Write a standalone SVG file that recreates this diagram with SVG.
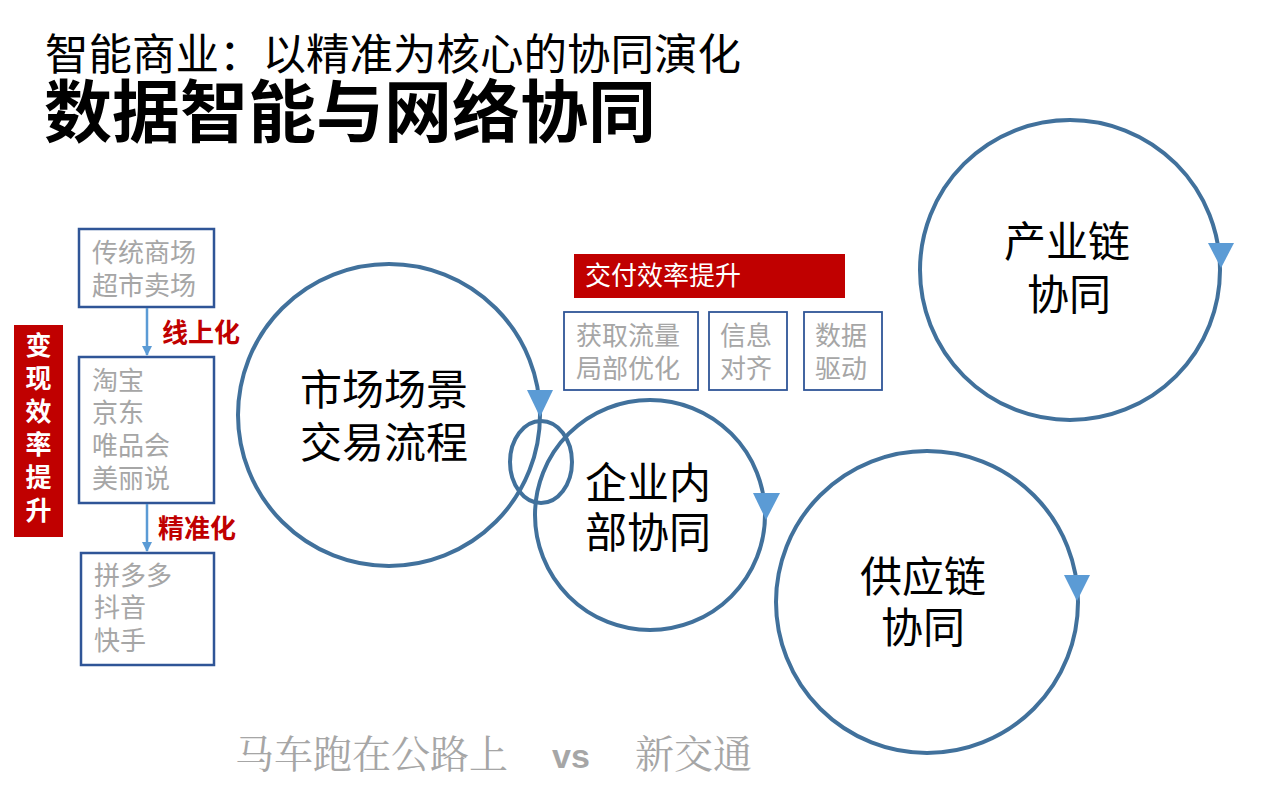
<svg xmlns="http://www.w3.org/2000/svg" width="1269" height="803" viewBox="0 0 1269 803">
<style>
text{font-family:"Noto Sans CJK SC","Noto Sans",sans-serif}
.ring{fill:none;stroke:#41719C;stroke-width:4}
.tip{fill:#5B9BD5}
.box{fill:#fff;stroke:#2F5597;stroke-width:2.5}
.sbox{fill:#fff;stroke:#2F5597;stroke-width:1.8}
.gray{fill:#A6A6A6;font-size:26px}
.big{fill:#000;font-size:42px}
.red{fill:#C00000;font-size:26px;font-weight:bold}
.wt{fill:#fff;font-size:26px}
.vl{stroke:#5B9BD5;stroke-width:2.5;fill:none}
</style>
<defs>
<marker id="ah" viewBox="0 0 10 10" refX="9" refY="5" markerWidth="4" markerHeight="4" orient="auto"><path d="M0,0L10,5L0,10z" fill="#5B9BD5"/></marker>
</defs>
<rect width="1269" height="803" fill="#fff"/>
<g id="title">
<text x="45" y="70" font-size="43.5" fill="#000">智能商业：以精准为核心的协同演化</text>
<text x="44" y="137" font-size="68" font-weight="bold" fill="#000">数据智能与网络协同</text>
</g>
<g id="bianxian">
<rect x="14" y="325" width="49" height="212" fill="#C00000"/>
<text class="wt" font-weight="bold" text-anchor="middle" x="38.5" y="355">变</text>
<text class="wt" font-weight="bold" text-anchor="middle" x="38.5" y="388">现</text>
<text class="wt" font-weight="bold" text-anchor="middle" x="38.5" y="421">效</text>
<text class="wt" font-weight="bold" text-anchor="middle" x="38.5" y="454">率</text>
<text class="wt" font-weight="bold" text-anchor="middle" x="38.5" y="487">提</text>
<text class="wt" font-weight="bold" text-anchor="middle" x="38.5" y="520">升</text>
</g>
<g id="box1">
<rect class="box" x="79" y="229" width="135" height="78"/>
<text class="gray" x="92" y="262">传统商场</text>
<text class="gray" x="92" y="295">超市卖场</text>
</g>
<g id="box2">
<rect class="box" x="79" y="357" width="135" height="146"/>
<text class="gray" x="92" y="390">淘宝</text>
<text class="gray" x="92" y="422">京东</text>
<text class="gray" x="92" y="455">唯品会</text>
<text class="gray" x="92" y="488">美丽说</text>
</g>
<g id="box3">
<rect class="box" x="81" y="553" width="133" height="112"/>
<text class="gray" x="94" y="585">拼多多</text>
<text class="gray" x="94" y="617">抖音</text>
<text class="gray" x="94" y="650">快手</text>
</g>
<g id="connectors">
<line class="vl" x1="147" y1="308" x2="147" y2="355" marker-end="url(#ah)"/>
<line class="vl" x1="147" y1="504" x2="147" y2="551" marker-end="url(#ah)"/>
<text class="red" x="162" y="342">线上化</text>
<text class="red" x="158" y="538">精准化</text>
</g>
<g id="market">
<circle class="ring" cx="389" cy="415" r="151"/>
<path class="tip" d="M527,390L553,390L540,417z"/>
<text class="big" x="300" y="405">市场场景</text>
<text class="big" x="300" y="458">交易流程</text>
</g>
<g id="overlap">
<ellipse class="ring" cx="541" cy="462" rx="31" ry="41" stroke-width="3"/>
</g>
<g id="enterprise">
<circle class="ring" cx="650" cy="515" r="115"/>
<path class="tip" d="M753,493L780,493L766,520z"/>
<text class="big" x="585" y="498">企业内</text>
<text class="big" x="585" y="548">部协同</text>
</g>
<g id="supply">
<circle class="ring" cx="927" cy="602" r="151"/>
<path class="tip" d="M1064,575L1090,575L1077,601z"/>
<text class="big" x="860" y="592">供应链</text>
<text class="big" x="881" y="643">协同</text>
</g>
<g id="industry">
<circle class="ring" cx="1070" cy="270" r="150"/>
<path class="tip" d="M1208,243L1234,243L1221,268z"/>
<text class="big" x="1004" y="257">产业链</text>
<text class="big" x="1027" y="310">协同</text>
</g>
<g id="jiaofu">
<rect x="574" y="254" width="271" height="44" fill="#C00000"/>
<text class="wt" x="585" y="285" font-size="27">交付效率提升</text>
</g>
<g id="sb1">
<rect class="sbox" x="564" y="312" width="134" height="78"/>
<text class="gray" x="576" y="345" font-size="27">获取流量</text>
<text class="gray" x="576" y="378" font-size="27">局部优化</text>
</g>
<g id="sb2">
<rect class="sbox" x="709" y="312" width="78" height="78"/>
<text class="gray" x="720" y="345" font-size="27">信息</text>
<text class="gray" x="720" y="378" font-size="27">对齐</text>
</g>
<g id="sb3">
<rect class="sbox" x="804" y="312" width="78" height="78"/>
<text class="gray" x="815" y="345" font-size="27">数据</text>
<text class="gray" x="815" y="378" font-size="27">驱动</text>
</g>
<g id="footer">
<text x="235" y="768" font-size="39" fill="#A6A6A6" style="font-family:'Noto Serif CJK SC','Noto Sans CJK SC',serif">马车跑在公路上</text>
<text x="552" y="768" font-size="34" font-weight="bold" fill="#A6A6A6" style="font-family:'Liberation Sans',sans-serif">vs</text>
<text x="635" y="768" font-size="39" fill="#A6A6A6" style="font-family:'Noto Serif CJK SC','Noto Sans CJK SC',serif">新交通</text>
</g>
</svg>
